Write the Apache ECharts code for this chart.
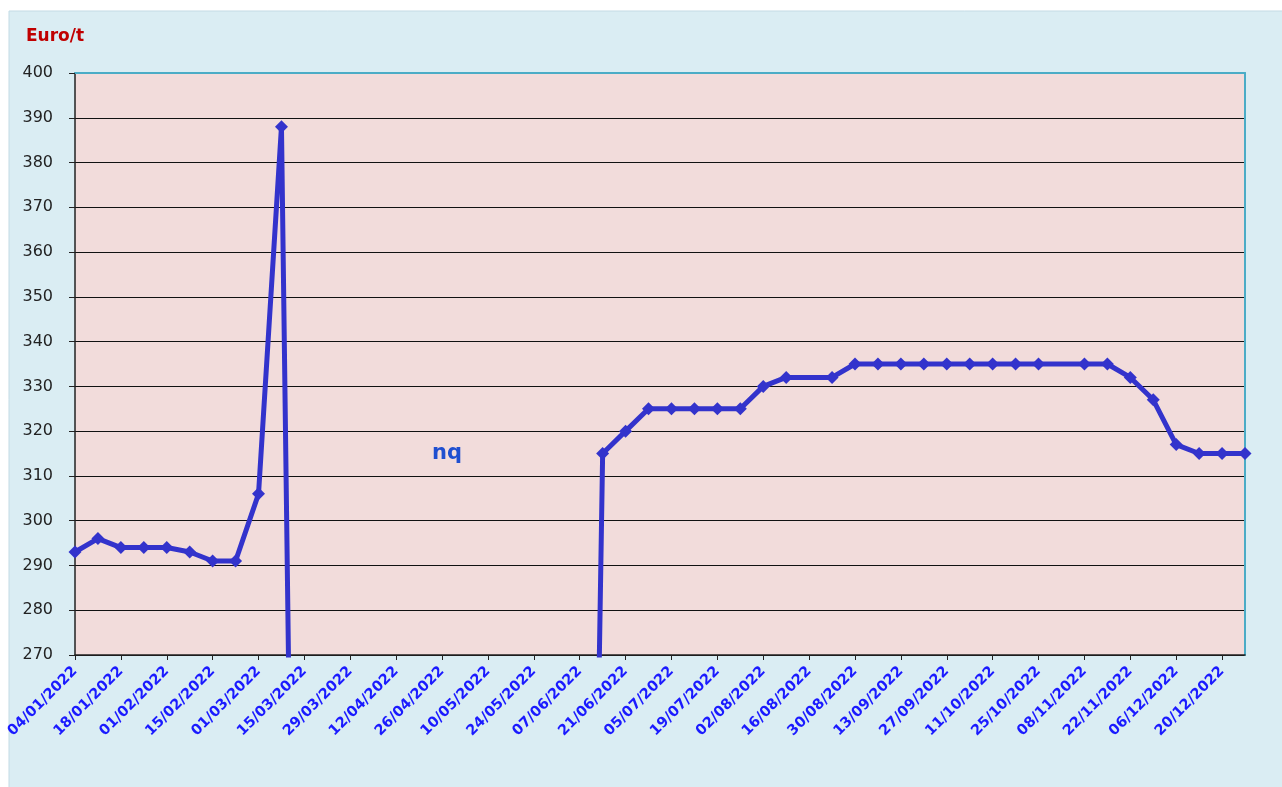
<!DOCTYPE html>
<html>
<head>
<meta charset="utf-8">
<script src="https://cdn.jsdelivr.net/npm/echarts@6/dist/echarts.min.js"></script>
<style>
  html, body { margin: 0; padding: 0; background: #fff; }
  #chart { width: 1282px; height: 787px; }
</style>
</head>
<body>
<div id="chart"></div>
<script>
// weekly dates (tuesdays) of 2022
var weeks = [
  '04/01/2022', '11/01/2022', '18/01/2022', '25/01/2022', '01/02/2022', '08/02/2022',
  '15/02/2022', '22/02/2022', '01/03/2022', '08/03/2022', '15/03/2022', '22/03/2022',
  '29/03/2022', '05/04/2022', '12/04/2022', '19/04/2022', '26/04/2022', '03/05/2022',
  '10/05/2022', '17/05/2022', '24/05/2022', '31/05/2022', '07/06/2022', '14/06/2022',
  '21/06/2022', '28/06/2022', '05/07/2022', '12/07/2022', '19/07/2022', '26/07/2022',
  '02/08/2022', '09/08/2022', '16/08/2022', '23/08/2022', '30/08/2022', '06/09/2022',
  '13/09/2022', '20/09/2022', '27/09/2022', '04/10/2022', '11/10/2022', '18/10/2022',
  '25/10/2022', '01/11/2022', '08/11/2022', '15/11/2022', '22/11/2022', '29/11/2022',
  '06/12/2022', '13/12/2022', '20/12/2022', '27/12/2022'
];

// Euro/t ; 0 = not quoted (nq), null = no data that week
var prices = [
  293, 296, 294, 294, 294, 293,
  291, 291, 306, 388, 0, 0,
  0, 0, 0, 0, 0, 0,
  0, 0, 0, 0, 0, 315,
  320, 325, 325, 325, 325, 325,
  330, 332, null, 332, 335, 335,
  335, 335, 335, 335, 335, 335,
  335, null, 335, 335, 332, 327,
  317, 315, 315, 315
];

var yTicks = [270, 400, 10]; // min, max, step
var nqNote = { week: '26/04/2022', value: 315, text: 'nq' };

var chart = echarts.init(document.getElementById('chart'));

var option = {
  backgroundColor: '#ffffff',
  animation: false,
  graphic: [{
    type: 'rect',
    z: -10,
    silent: true,
    shape: { x: 9, y: 11, width: 1300, height: 800 },
    style: { fill: '#daedf3', stroke: '#c3dbe5', lineWidth: 1 }
  }],
  title: {
    text: 'Euro/t',
    left: 21,
    top: 23,
    textStyle: { color: '#c00000', fontSize: 17, fontWeight: 'bold', fontFamily: 'DejaVu Sans' }
  },
  grid: {
    left: 75, top: 73, right: 37, bottom: 132,
    show: true,
    backgroundColor: '#f2dcdb',
    borderWidth: 0
  },
  xAxis: [{
    type: 'category',
    data: weeks,
    boundaryGap: false,
    axisLine: { lineStyle: { color: '#222', width: 1.5 } },
    axisTick: { interval: 1, length: 5, lineStyle: { color: '#222' } },
    axisLabel: {
      interval: 1,
      rotate: 45,
      margin: 14,
      color: '#1a1aff',
      fontSize: 14.5,
      fontWeight: 'bold',
      fontFamily: 'DejaVu Sans'
    },
    splitLine: { show: false }
  }, {
    type: 'category',
    data: weeks,
    position: 'top',
    boundaryGap: false,
    axisLine: { lineStyle: { color: '#4bacc6', width: 2 } },
    axisTick: { show: false },
    axisLabel: { show: false }
  }],
  yAxis: [{
    type: 'value',
    min: yTicks[0],
    max: yTicks[1],
    interval: yTicks[2],
    axisLine: { show: true, lineStyle: { color: '#222', width: 1.5 } },
    axisTick: { show: true, length: 6, lineStyle: { color: '#222' } },
    axisLabel: { margin: 22, color: '#222', fontSize: 16, fontFamily: 'DejaVu Sans' },
    splitLine: { lineStyle: { color: '#111', width: 1.2 } }
  }, {
    type: 'value',
    position: 'right',
    min: yTicks[0],
    max: yTicks[1],
    interval: yTicks[2],
    axisLine: { show: true, lineStyle: { color: '#4bacc6', width: 2 } },
    axisTick: { show: false },
    axisLabel: { show: false },
    splitLine: { show: false }
  }],
  series: [{
    type: 'line',
    data: prices,
    connectNulls: true,
    clip: true,
    symbol: 'diamond',
    symbolSize: 13,
    showAllSymbol: true,
    lineStyle: { color: '#3333cc', width: 5 },
    itemStyle: { color: '#3333cc' },
    markPoint: {
      symbol: 'circle',
      symbolSize: 0,
      data: [{
        coord: [nqNote.week, nqNote.value],
        label: {
          show: true,
          formatter: nqNote.text,
          position: 'inside',
          offset: [5, 0],
          color: '#1f4fd0',
          fontSize: 21,
          fontWeight: 'bold',
          fontFamily: 'DejaVu Sans'
        }
      }]
    }
  }]
};

chart.setOption(option);
</script>
</body>
</html>
